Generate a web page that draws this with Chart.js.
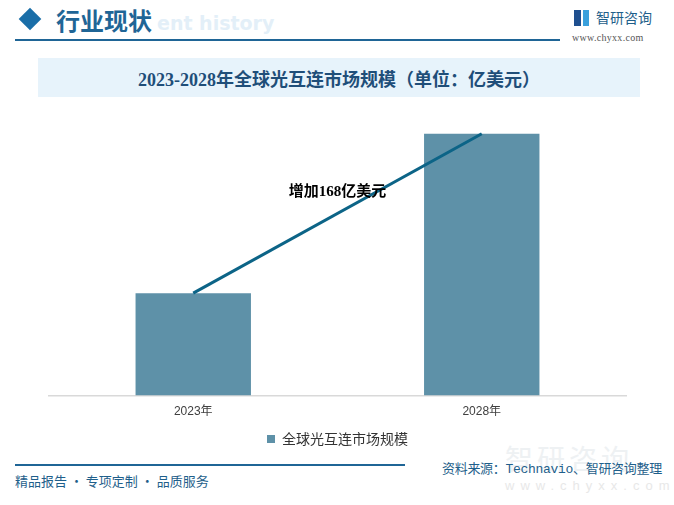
<!DOCTYPE html>
<html>
<head>
<meta charset="utf-8">
<script src="https://cdn.jsdelivr.net/npm/chart.js@4"></script>
<style>
  body { margin: 0; background: #fff; }
  #page { position: relative; width: 674px; height: 505px; overflow: hidden; font-family: "Noto Sans CJK SC", sans-serif; }
  .abs { position: absolute; white-space: nowrap; }
  #chart { position: absolute; left: 0; top: 0; }
</style>
</head>
<body>
<div id="page">
  <!-- header -->
  <div class="abs" style="left:22px;top:11px;width:16px;height:16px;background:#1a6ea8;transform:rotate(45deg);"></div>
  <div class="abs" style="left:157px;top:12px;font:bold 19px 'DejaVu Sans';color:#e3eff8;">ent history</div>
  <div class="abs" style="left:56px;top:2px;font:bold 24px 'Noto Sans CJK SC';color:#1f6596;">行业现状</div>
  <div class="abs" style="left:15px;top:39px;width:545px;height:2px;background:#1f6596;"></div>
  <div class="abs" style="left:574px;top:10px;width:7px;height:16px;background:#1f4f8f;"></div>
  <div class="abs" style="left:583px;top:10px;width:6px;height:16px;background:#3aa0dc;"></div>
  <div class="abs" style="left:596px;top:7px;font:14px 'Noto Sans CJK SC';color:#1f5f8b;">智研咨询</div>
  <div class="abs" style="left:572px;top:32px;font:10px 'Liberation Serif';color:#555;letter-spacing:0.3px;">www.chyxx.com</div>

  <!-- title box -->
  <div class="abs" style="left:38px;top:58px;width:602px;height:39px;background:#e7f3fb;"></div>
  <div class="abs" style="left:38px;top:65px;width:602px;text-align:center;font:bold 18px 'Liberation Serif','Noto Sans CJK SC';color:#1f4e79;">2023-2028年全球光互连市场规模（单位：亿美元）</div>

  <!-- footer -->
  <div class="abs" style="left:15px;top:464px;width:390px;height:2px;background:#1f6596;"></div>
  <div class="abs" style="left:15px;top:471px;font:13px 'Noto Sans CJK SC';color:#1f5f8b;">精品报告 · 专项定制 · 品质服务</div>
  <div class="abs" style="left:505px;top:438px;font:28px 'Noto Sans CJK SC';color:#eef1f3;letter-spacing:4px;">智研咨询</div>
  <div class="abs" style="left:505px;top:478px;font:13px 'Liberation Sans';color:#e8e8e8;letter-spacing:6px;">www.chyxx.com</div>
  <div class="abs" style="left:442px;top:458px;font:13px 'Liberation Mono','Noto Sans CJK SC';color:#1f5f8b;letter-spacing:-0.3px;">资料来源：Technavio、智研咨询整理</div>

  <canvas id="chart" width="674" height="505"></canvas>
</div>
<script>
// chart data
const years = ['2023年', '2028年'];
const marketSize = [108, 276]; // 亿美元
const seriesName = '全球光互连市场规模';
const noteText = '增加168亿美元';
const noteValue = 214; // height of the note on the value axis

const barColor = '#5e91a8';
const lineColor = '#0c6487';

// draws the growth note between the two bars
const notePlugin = {
    id: 'note',
    afterDatasetsDraw(chart) {
        const x = chart.scales.x;
        const y = chart.scales.y;
        const ctx = chart.ctx;
        ctx.save();
        ctx.font = "bold 15px 'Liberation Serif', 'Noto Sans CJK SC'";
        ctx.fillStyle = '#000';
        ctx.textAlign = 'center';
        ctx.textBaseline = 'middle';
        ctx.fillText(noteText, (x.getPixelForValue(0) + x.getPixelForValue(1)) / 2, y.getPixelForValue(noteValue));
        ctx.restore();
    }
};

const ctx = document.getElementById('chart').getContext('2d');
const chart = new Chart(ctx, {
    type: 'bar',
    data: {
        labels: years,
        datasets: [{
            type: 'line',
            label: 'trend',
            data: marketSize,
            borderColor: lineColor,
            borderWidth: 3,
            pointRadius: 0,
            fill: false,
            order: 0
        }, {
            label: seriesName,
            data: marketSize,
            backgroundColor: barColor,
            barPercentage: 0.4,
            categoryPercentage: 1.0,
            order: 1
        }]
    },
    options: {
        responsive: false,
        animation: false,
        layout: { padding: { left: 49, right: 48, top: 111, bottom: 49 } },
        scales: {
            x: {
                grid: { display: false, drawTicks: false },
                border: { display: true, color: '#d9d9d9', width: 1.5 },
                ticks: { color: '#404040', padding: 9, font: { size: 12, family: "'Liberation Sans', 'Noto Sans CJK SC'" } }
            },
            y: {
                display: false,
                min: 0,
                max: 300
            }
        },
        plugins: {
            tooltip: { enabled: false },
            legend: {
                position: 'bottom',
                labels: {
                    filter: item => item.datasetIndex === 1,
                    boxWidth: 8,
                    boxHeight: 8,
                    padding: 4,
                    color: '#333',
                    font: { size: 14, family: "'Noto Sans CJK SC'" }
                }
            }
        }
    },
    plugins: [notePlugin]
});
</script>
</body>
</html>
